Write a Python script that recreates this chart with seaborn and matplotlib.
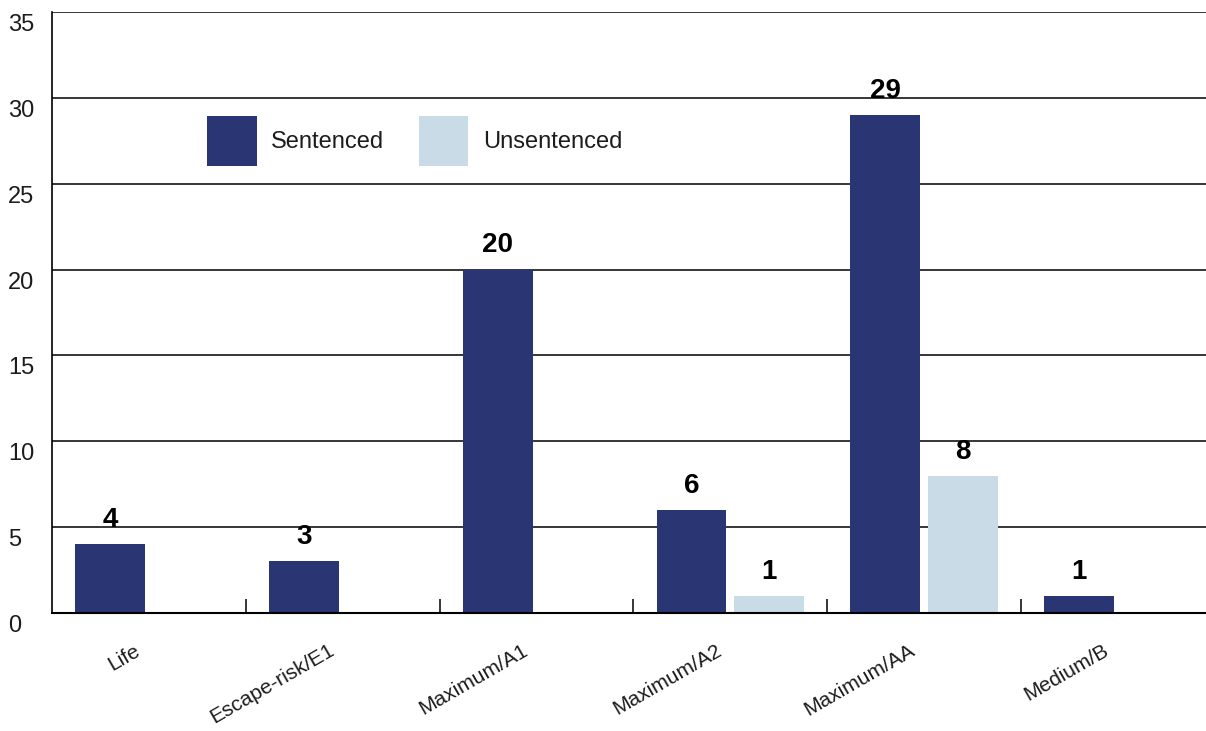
import matplotlib
matplotlib.use("Agg")
import matplotlib.pyplot as plt
import matplotlib.transforms as mtransforms
from matplotlib.ticker import FixedLocator
import numpy as np
import pandas as pd
import seaborn as sns

# Prisoner counts by security classification
categories = ["Life", "Escape-risk/E1", "Maximum/A1", "Maximum/A2", "Maximum/AA", "Medium/B"]
sentenced = [4, 3, 20, 6, 29, 1]
unsentenced = [0, 0, 0, 1, 8, 0]
series_names = ["Sentenced", "Unsentenced"]
y_ticks = [0, 5, 10, 15, 20, 25, 30, 35]

colors = {"Sentenced": "#293673", "Unsentenced": "#c9dbe6"}
text_color = "#1c1c1c"

df = pd.DataFrame({
    "category": categories * 2,
    "status": [series_names[0]] * len(categories) + [series_names[1]] * len(categories),
    "count": sentenced + unsentenced,
})

sns.set_theme(style="white")
plt.rcParams["font.family"] = ["Liberation Sans", "DejaVu Sans"]

fig = plt.figure(figsize=(12.06, 7.31), dpi=100)
W, H = 1206, 731
left_px, right_px, top_px, bottom_px = 52, 1214.5, 12, 613
ax = fig.add_axes([left_px / W, 1 - bottom_px / H,
                   (right_px - left_px) / W, (bottom_px - top_px) / H])

sns.barplot(data=df, x="category", y="count", hue="status", order=categories,
            hue_order=series_names, palette=colors, width=0.8, gap=0.1,
            saturation=1, linewidth=0, ax=ax)

ax.set_xlim(-0.5, len(categories) - 0.5)
ax.set_ylim(0, 35)

# horizontal rules
ax.yaxis.set_major_locator(FixedLocator(y_ticks))
for y in y_ticks[1:]:
    ax.axhline(y, color="black", lw=1.1, zorder=0.5)

for side in ["top", "right"]:
    ax.spines[side].set_visible(False)
ax.spines["left"].set_color("black")
ax.spines["left"].set_linewidth(1.2)
ax.spines["bottom"].set_color("black")
ax.spines["bottom"].set_linewidth(1.5)

ax.set_xlabel("")
ax.set_ylabel("")

# y tick labels: left aligned at figure edge, sitting below each rule
ax.tick_params(axis="y", length=0, pad=31.5, labelsize=17, labelcolor=text_color)
ax.set_yticks(y_ticks)
ax.set_yticklabels([str(v) for v in y_ticks])
down = mtransforms.ScaledTranslation(0, -2 / 100, fig.dpi_scale_trans)
for lab in ax.get_yticklabels():
    lab.set_ha("left")
    lab.set_va("top")
    lab.set_transform(lab.get_transform() + down)

# category separators
ax.xaxis.set_minor_locator(FixedLocator(np.arange(0.5, len(categories) - 1, 1.0)))
ax.tick_params(axis="x", which="minor", direction="in", length=10, width=1.1,
               color="black", bottom=True)
ax.tick_params(axis="x", which="major", length=0, pad=20, labelsize=15,
               labelcolor=text_color)
ax.set_xticks(range(len(categories)))
ax.set_xticklabels(categories)
shift = mtransforms.ScaledTranslation(-15 / 100, 0, fig.dpi_scale_trans)
for lab in ax.get_xticklabels():
    lab.set_rotation(30)
    lab.set_ha("right")
    lab.set_va("top")
    lab.set_rotation_mode("anchor")
    lab.set_transform(lab.get_transform() + shift)

# value labels over non-zero bars
for cont in ax.containers:
    labels = [f"{b.get_height():.0f}" if b.get_height() > 0 else "" for b in cont]
    ax.bar_label(cont, labels=labels, padding=8, fontsize=20, fontweight="bold",
                 color="black")

handles, labels = ax.get_legend_handles_labels()
ax.legend(handles, labels, loc="upper left",
          bbox_to_anchor=(207 / W, 1 - 116 / H), bbox_transform=fig.transFigure,
          ncol=2, frameon=False, fontsize=17, handlelength=2.1, handleheight=2.9,
          handletextpad=0.62, columnspacing=1.45, borderpad=0, borderaxespad=0,
          labelcolor=text_color)

fig.savefig("out.png", dpi=100)
